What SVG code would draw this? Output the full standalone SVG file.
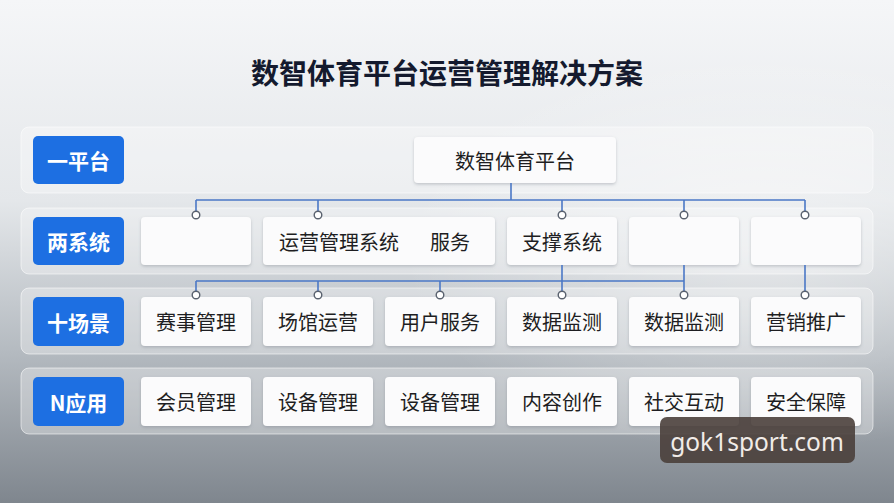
<svg xmlns="http://www.w3.org/2000/svg" width="894" height="503" viewBox="0 0 894 503">
<defs>
<linearGradient id="bg" x1="0" y1="0" x2="0" y2="1">
<stop offset="0" stop-color="#f5f6f8"/>
<stop offset="0.4" stop-color="#e4e7ea"/>
<stop offset="0.7" stop-color="#b4bac0"/>
<stop offset="1" stop-color="#7f868e"/>
</linearGradient>
<radialGradient id="glow" cx="0.85" cy="0.5" r="0.4">
<stop offset="0" stop-color="#ffffff" stop-opacity="0.45"/>
<stop offset="1" stop-color="#ffffff" stop-opacity="0"/>
</radialGradient>
<filter id="sh" x="-10%" y="-20%" width="120%" height="150%">
<feDropShadow dx="0" dy="1.5" stdDeviation="1.5" flood-color="#6a7380" flood-opacity="0.35"/>
</filter>
</defs>
<style>
.panel{fill:#ffffff;fill-opacity:0.32;stroke:#ffffff;stroke-opacity:0.55;stroke-width:1}
.tag{fill:#1d6fe2}
.tagt{font-family:"Noto Sans CJK SC","Noto Sans",sans-serif;font-weight:bold;font-size:21px;fill:#ffffff;text-anchor:middle;dominant-baseline:central}
.cell{fill:#fbfbfc;filter:url(#sh)}
.ct{font-family:"Noto Sans CJK SC","Noto Sans",sans-serif;font-size:20px;fill:#1e1e22;text-anchor:middle;dominant-baseline:central}
.ln{fill:none;stroke:#4b78c6;stroke-width:1.6}
.dot{fill:#ffffff;stroke:#59616e;stroke-width:1.4}
</style>
<rect width="894" height="503" fill="url(#bg)"/>
<rect width="894" height="503" fill="url(#glow)"/>
<text x="447" y="72" font-family="'Noto Sans CJK SC','Noto Sans',sans-serif" font-weight="bold" font-size="28" fill="#141a2e" text-anchor="middle" dominant-baseline="central">数智体育平台运营管理解决方案</text>

<g id="panels">
<rect class="panel" x="21" y="127" width="852" height="66" rx="8"/>
<rect class="panel" x="21" y="208" width="852" height="66" rx="8"/>
<rect class="panel" x="21" y="288" width="852" height="66" rx="8"/>
<rect class="panel" x="21" y="368" width="852" height="66" rx="8"/>
</g>

<g id="tag-1"><rect class="tag" x="33" y="136" width="91" height="48" rx="5"/><text class="tagt" x="78.5" y="160">一平台</text></g>
<g id="tag-2"><rect class="tag" x="33" y="217" width="91" height="48" rx="5"/><text class="tagt" x="78.5" y="241">两系统</text></g>
<g id="tag-3"><rect class="tag" x="33" y="297" width="91" height="49" rx="5"/><text class="tagt" x="78.5" y="321.5">十场景</text></g>
<g id="tag-4"><rect class="tag" x="33" y="377" width="91" height="49" rx="5"/><text class="tagt" x="78.5" y="401.5">N应用</text></g>

<g id="platform"><rect class="cell" x="414" y="137" width="202" height="46" rx="4"/><text class="ct" x="515" y="160">数智体育平台</text></g>

<g id="sys-1"><rect class="cell" x="141" y="217" width="110" height="48" rx="4"/></g>
<g id="sys-2"><rect class="cell" x="263" y="217" width="232" height="48" rx="4"/><text class="ct" style="text-anchor:start" x="279" y="241">运营管理系统<tspan x="430">服务</tspan></text></g>
<g id="sys-3"><rect class="cell" x="507" y="217" width="110" height="48" rx="4"/><text class="ct" x="562" y="241">支撑系统</text></g>
<g id="sys-4"><rect class="cell" x="629" y="217" width="110" height="48" rx="4"/></g>
<g id="sys-5"><rect class="cell" x="751" y="217" width="110" height="48" rx="4"/></g>

<g id="sc-1"><rect class="cell" x="141" y="297" width="110" height="49" rx="4"/><text class="ct" x="196" y="321.5">赛事管理</text></g>
<g id="sc-2"><rect class="cell" x="263" y="297" width="110" height="49" rx="4"/><text class="ct" x="318" y="321.5">场馆运营</text></g>
<g id="sc-3"><rect class="cell" x="385" y="297" width="110" height="49" rx="4"/><text class="ct" x="440" y="321.5">用户服务</text></g>
<g id="sc-4"><rect class="cell" x="507" y="297" width="110" height="49" rx="4"/><text class="ct" x="562" y="321.5">数据监测</text></g>
<g id="sc-5"><rect class="cell" x="629" y="297" width="110" height="49" rx="4"/><text class="ct" x="684" y="321.5">数据监测</text></g>
<g id="sc-6"><rect class="cell" x="751" y="297" width="110" height="49" rx="4"/><text class="ct" x="806" y="321.5">营销推广</text></g>

<g id="app-1"><rect class="cell" x="141" y="377" width="110" height="49" rx="4"/><text class="ct" x="196" y="401.5">会员管理</text></g>
<g id="app-2"><rect class="cell" x="263" y="377" width="110" height="49" rx="4"/><text class="ct" x="318" y="401.5">设备管理</text></g>
<g id="app-3"><rect class="cell" x="385" y="377" width="110" height="49" rx="4"/><text class="ct" x="440" y="401.5">设备管理</text></g>
<g id="app-4"><rect class="cell" x="507" y="377" width="110" height="49" rx="4"/><text class="ct" x="562" y="401.5">内容创作</text></g>
<g id="app-5"><rect class="cell" x="629" y="377" width="110" height="49" rx="4"/><text class="ct" x="684" y="401.5">社交互动</text></g>
<g id="app-6"><rect class="cell" x="751" y="377" width="110" height="49" rx="4"/><text class="ct" x="806" y="401.5">安全保障</text></g>

<g id="connectors">
<path class="ln" d="M511 183V200M196 200H805M196 200V212M318 200V212M562 200V212M684 200V212M805 200V212"/>
<path class="ln" d="M196 281H684M196 281V292M318 281V292M440 281V292M562 265V292M684 265V292M805 265V292"/>
<circle class="dot" cx="196" cy="215" r="3.8"/>
<circle class="dot" cx="318" cy="215" r="3.8"/>
<circle class="dot" cx="562" cy="215" r="3.8"/>
<circle class="dot" cx="684" cy="215" r="3.8"/>
<circle class="dot" cx="805" cy="215" r="3.8"/>
<circle class="dot" cx="196" cy="295" r="3.8"/>
<circle class="dot" cx="318" cy="295" r="3.8"/>
<circle class="dot" cx="440" cy="295" r="3.8"/>
<circle class="dot" cx="562" cy="295" r="3.8"/>
<circle class="dot" cx="684" cy="295" r="3.8"/>
<circle class="dot" cx="805" cy="295" r="3.8"/>
</g>

<g id="watermark">
<rect x="660" y="417" width="195" height="46" rx="7" fill="#4a3f3b" fill-opacity="0.9"/>
<text x="757" y="451" font-family="'Noto Sans','Open Sans',sans-serif" font-size="24.5" fill="#f1ece8" text-anchor="middle">gok1sport.com</text>
</g>
</svg>
